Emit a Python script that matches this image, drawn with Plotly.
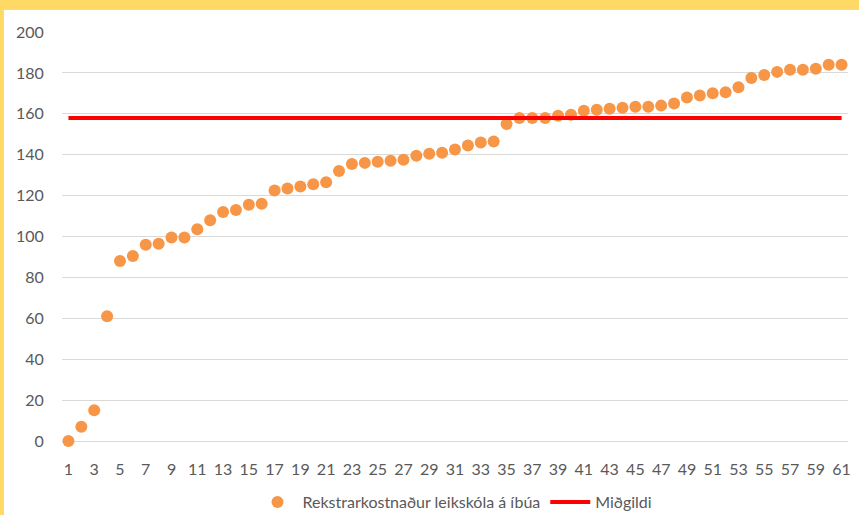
import plotly.graph_objects as go

sveitarfelag = list(range(1, 62))
kostnadur = [0, 7, 15, 61, 88, 90.5, 96, 96.5, 99.5, 99.5,
             103.5, 108, 112, 113, 115.5, 116, 122.5, 123.5, 124.5, 125.5,
             126.5, 132, 135.5, 136, 136.5, 137, 137.5, 139.5, 140.5, 141,
             142.5, 144.5, 146, 146.5, 155, 158, 158, 158, 159, 159.5,
             161.5, 162, 162.5, 163, 163.5, 163.5, 164, 165, 168, 169,
             170, 170.5, 173, 177.5, 179, 180.5, 181.5, 181.5, 182, 184, 184]
midgildi = [158] * len(sveitarfelag)
x_ticks = list(range(1, 62, 2))
y_ticks = list(range(0, 201, 20))

FONT = "Lato"
TXT = "#595959"

fig = go.Figure()
fig.add_trace(go.Scatter(
    x=sveitarfelag, y=kostnadur, mode="markers",
    name="Rekstrarkostnaður leikskóla á íbúa",
    marker=dict(size=12, color="#F79646"),
    cliponaxis=False,
))
fig.add_trace(go.Scatter(
    x=sveitarfelag, y=midgildi, mode="lines", name="Miðgildi",
    line=dict(color="#FF0000", width=4),
))

W, H = 859, 515
L, R, T, B = 62, 11, 32, 74
pw, ph = W - L - R, H - T - B

def px_x(x):
    return (x - L) / pw

def px_y(y):
    return (H - B - y) / ph

shapes = [
    dict(type="rect", xref="paper", yref="paper", x0=px_x(0), x1=px_x(W), y0=px_y(9), y1=px_y(0),
         fillcolor="#FFD966", line=dict(width=0), layer="below"),
    dict(type="rect", xref="paper", yref="paper", x0=px_x(0), x1=px_x(3), y0=px_y(H), y1=px_y(0),
         fillcolor="#FFD966", line=dict(width=0), layer="below"),
    dict(type="line", xref="paper", yref="paper", x0=px_x(3), x1=px_x(W), y0=px_y(9.5), y1=px_y(9.5),
         line=dict(color="#D9D9D9", width=1), layer="below"),
    dict(type="line", xref="paper", yref="paper", x0=px_x(3.5), x1=px_x(3.5), y0=px_y(H), y1=px_y(9),
         line=dict(color="#D9D9D9", width=1), layer="below"),
]

fig.update_layout(
    width=W, height=H,
    margin=dict(l=L, r=R, t=T, b=B, autoexpand=False),
    paper_bgcolor="white", plot_bgcolor="white",
    font=dict(family=FONT, size=16, color=TXT),
    shapes=shapes,
    xaxis=dict(range=[0.5, 61.5], tickvals=x_ticks, ticktext=[str(v) for v in x_ticks],
               showgrid=False, zeroline=False, showline=False,
               ticks="outside", ticklen=14, tickcolor="rgba(0,0,0,0)", automargin=False,
               tickfont=dict(size=16, color=TXT)),
    yaxis=dict(range=[0, 200], tickvals=y_ticks, gridcolor="#D9D9D9", gridwidth=1,
               zeroline=True, zerolinecolor="#D9D9D9", zerolinewidth=1,
               showline=False, ticks="outside", ticklen=14, tickcolor="rgba(0,0,0,0)",
               automargin=False, tickfont=dict(size=16, color=TXT)),
    legend=dict(orientation="h", x=0.5, xanchor="center", y=px_y(502), yanchor="middle",
                font=dict(size=16, color=TXT), itemwidth=40, bgcolor="rgba(0,0,0,0)"),
    showlegend=True,
)

fig.write_html("out.html", config={"displayModeBar": False},
               post_script="document.body.style.margin='0';")
